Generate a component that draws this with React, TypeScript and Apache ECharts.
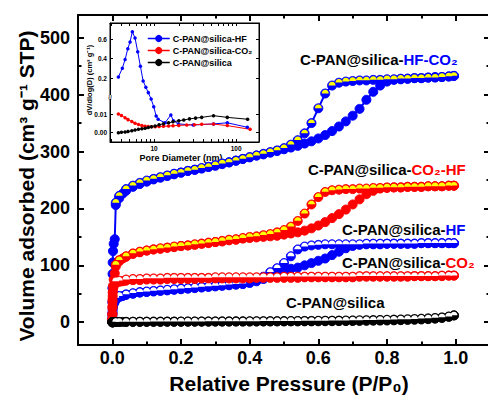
import React, { useEffect, useRef } from 'react';
import * as echarts from 'echarts';

const FONT = '"Liberation Sans", Arial, Helvetica, sans-serif';
const BLUE = '#0000ff';
const RED = '#ff0000';
const BLACK = '#000000';
const YELLOW = '#ffff00';
const WHITE = '#ffffff';

// ---------- main isotherms ----------
const ADS_P = [
  0.00001, 0.00003, 0.0001, 0.0003, 0.0006, 0.001, 0.002, 0.004, 0.007, 0.01,
  0.02, 0.03, 0.04,
  0.06, 0.08, 0.10, 0.12, 0.14, 0.16, 0.18, 0.20,
  0.22, 0.24, 0.26, 0.28, 0.30, 0.32, 0.34, 0.36, 0.38, 0.40,
  0.42, 0.44, 0.46, 0.48, 0.50, 0.52, 0.54, 0.56, 0.58, 0.60,
  0.62, 0.64, 0.66, 0.68, 0.70, 0.72, 0.74, 0.76, 0.78, 0.80,
  0.82, 0.84, 0.86, 0.88, 0.90, 0.92, 0.94, 0.96, 0.98,
  0.995,
];
const DES_P = [
  0.995,
  0.98, 0.96, 0.94, 0.92, 0.90, 0.88, 0.86, 0.84, 0.82, 0.80,
  0.78, 0.76, 0.74, 0.72, 0.70, 0.68, 0.66, 0.64, 0.62, 0.60,
  0.58, 0.56, 0.54, 0.52, 0.50, 0.48, 0.46, 0.44, 0.42, 0.40,
  0.38, 0.36, 0.34, 0.32, 0.30, 0.28, 0.26, 0.24, 0.22, 0.20,
  0.18, 0.16, 0.14, 0.12, 0.10, 0.08, 0.06, 0.04, 0.02,
  0.01,
];

const HFCO2_ADS = [
  2, 15, 35, 60, 85, 105, 125, 138, 146, 206,
  218, 226, 231,
  238, 243, 247, 251, 254, 257, 260, 263,
  266, 268, 270, 273, 275, 278, 281, 284, 287, 290,
  293, 295, 298, 301, 304, 307, 310, 314, 318, 323,
  329, 336, 344, 353, 363, 375, 391, 405, 416, 423,
  426, 427, 428, 429, 429, 430, 431, 431, 432,
  433,
];
const HFCO2_DES = [
  433,
  432, 431, 430, 430, 429, 429, 428, 428, 427, 427,
  426, 426, 425, 425, 424, 423, 421, 416, 402, 376,
  350, 332, 320, 312, 306, 302, 299, 296, 293, 290,
  287, 284, 281, 279, 276, 273, 271, 268, 266, 263,
  261, 258, 255, 252, 249, 245, 240, 234, 222,
  210,
];
const CO2HF_ADS = [
  1, 6, 15, 28, 40, 52, 64, 75, 86, 98,
  107, 112, 115,
  120, 123, 126, 128, 129, 131, 132, 134,
  135, 136, 138, 139, 141, 142, 144, 145, 147, 148,
  149, 150, 151, 152, 154, 156, 158, 161, 165, 170,
  176, 183, 190, 198, 207, 216, 225, 231, 235, 236,
  237, 237, 238, 238, 238, 239, 239, 239, 240,
  240,
];
const CO2HF_DES = [
  240,
  240, 239, 239, 239, 238, 238, 238, 237, 237, 237,
  236, 236, 235, 235, 234, 234, 233, 232, 229, 220,
  207, 191, 178, 168, 162, 158, 155, 153, 151, 150,
  148, 146, 145, 143, 141, 140, 138, 137, 135, 134,
  133, 131, 130, 128, 126, 124, 121, 116, 109,
  101,
];
const HF_ADS = [
  1, 3, 7, 12, 17, 22, 27, 32, 36, 40,
  44, 46, 48,
  50, 52, 53, 54, 55, 56, 57, 58,
  59, 60, 61, 62, 63, 64, 65, 66, 67, 69,
  72, 76, 80, 86, 91, 94, 96, 100, 104, 108,
  112, 118, 124, 130, 134, 136, 137, 137, 137, 138,
  138, 138, 138, 138, 139, 139, 139, 139, 139,
  139,
];
const HF_DES = [
  139,
  139, 139, 139, 139, 139, 138, 138, 138, 138, 138,
  138, 138, 138, 137, 137, 137, 137, 137, 137, 136,
  135, 133, 128, 116, 104, 95, 88, 80, 75, 71,
  68, 67, 66, 65, 64, 63, 62, 61, 60, 59,
  58, 57, 56, 55, 54, 53, 51, 49, 46,
  43,
];
const CO2_ADS = [
  1, 5, 13, 25, 36, 46, 56, 63, 67, 69,
  71, 72, 73,
  74, 74, 75, 75, 75, 76, 76, 76,
  76, 76, 77, 77, 77, 77, 77, 77, 77, 77,
  78, 78, 78, 78, 78, 78, 78, 79, 79, 79,
  79, 79, 79, 79, 79, 80, 80, 80, 80, 80,
  80, 80, 80, 81, 81, 81, 81, 81, 82,
  82,
];
const CO2_DES = [
  82,
  82, 82, 81, 81, 81, 81, 81, 81, 81, 81,
  81, 81, 81, 81, 80, 80, 80, 80, 80, 80,
  80, 80, 80, 80, 80, 79, 79, 79, 79, 79,
  79, 79, 79, 79, 79, 78, 78, 78, 78, 78,
  78, 78, 77, 77, 77, 76, 76, 75, 73,
  72,
];
const SILICA_ADS = [
  0, 0, 0, 0, 0, 0, 0.1, 0.2, 0.3, 0.4,
  0.5, 0.6, 0.6,
  0.7, 0.7, 0.8, 0.8, 0.8, 0.9, 0.9, 0.9,
  1.0, 1.0, 1.0, 1.0, 1.1, 1.1, 1.1, 1.2, 1.2, 1.2,
  1.3, 1.3, 1.3, 1.4, 1.4, 1.5, 1.5, 1.6, 1.6, 1.7,
  1.8, 1.9, 2.0, 2.1, 2.2, 2.3, 2.5, 2.7, 2.9, 3.1,
  3.4, 3.7, 4.0, 4.4, 4.9, 5.5, 6.3, 7.5, 9.5,
  12,
];
const SILICA_DES = [
  12,
  10, 8.5, 7.5, 6.8, 6.2, 5.7, 5.3, 4.9, 4.6, 4.3,
  4.0, 3.8, 3.6, 3.4, 3.2, 3.0, 2.9, 2.7, 2.6, 2.5,
  2.4, 2.3, 2.2, 2.1, 2.0, 1.9, 1.9, 1.8, 1.7, 1.7,
  1.6, 1.6, 1.5, 1.5, 1.4, 1.4, 1.3, 1.3, 1.2, 1.2,
  1.1, 1.1, 1.0, 1.0, 0.9, 0.9, 0.8, 0.7, 0.6,
  0.5,
];

const X_MAJOR = [0, 0.2, 0.4, 0.6, 0.8, 1.0];
const X_MINOR = [0.1, 0.3, 0.5, 0.7, 0.9];
const Y_MAJOR = [0, 100, 200, 300, 400, 500];
const Y_MINOR = [50, 150, 250, 350, 450];

// ---------- inset: pore size distribution ----------
const HF_PSD_D = [3.67, 4.1, 4.43, 4.78, 5.09, 5.43, 5.86, 6.31, 6.81, 7.35, 7.93, 8.5, 9.2, 9.9, 10.6, 11.2, 13.6, 16, 17.2, 19.8, 30, 53, 78, 137];
const HF_PSD_V = [0.21, 0.30, 0.39, 0.50, 0.57, 0.675, 0.61, 0.47, 0.32, 0.17, 0.105, 0.05, 0.018, 0.0139, 0.0089, 0.0072, 0.0053, 0.0095, 0.0064, 0.0047, 0.0041, 0.0047, 0.0053, 0.0029];
const CO2_PSD_D = [3.67, 4.0, 4.43, 4.8, 5.35, 5.86, 6.45, 7.1, 7.76, 8.5, 9.3, 10.3, 11.5, 13, 15, 17, 20, 25, 31, 38, 53, 78, 148];
const CO2_PSD_V = [0.010, 0.0092, 0.008, 0.007, 0.006, 0.005, 0.0044, 0.0038, 0.0035, 0.0033, 0.0032, 0.0032, 0.0033, 0.0034, 0.0036, 0.0037, 0.0039, 0.0041, 0.0043, 0.0045, 0.0046, 0.0038, 0.0018];
const SILICA_PSD_D = [3.67, 4.0, 4.43, 4.8, 5.35, 5.86, 6.45, 7.1, 7.76, 8.5, 9.3, 10.3, 11.5, 13, 15, 17, 20, 23, 27, 32, 38, 53, 78, 138];
const SILICA_PSD_V = [0.0000, 0.0002, 0.0004, 0.0007, 0.0010, 0.0014, 0.0018, 0.0021, 0.0024, 0.0028, 0.0032, 0.0036, 0.0042, 0.0048, 0.0053, 0.0058, 0.0064, 0.0068, 0.0074, 0.0078, 0.0082, 0.0091, 0.0082, 0.0072];

const INSET_X_TICKS = [3, 4, 5, 6, 7, 8, 9, 10, 20, 30, 40, 50, 60, 70, 80, 90, 100];
const INSET_X_LABELS = [10, 100];
const INSET_Y_LOW_TICKS = [0, 0.01];
const INSET_Y_HIGH_TICKS = [0.2, 0.4, 0.6];

// broken inset y axis: two linear segments with different scales
const LOW_OFFSET = 9.3;
const LOW_SCALE = 1870;
const HIGH_OFFSET = 44.5;
const HIGH_SCALE = 97.5;
const BREAK_V = 0.019;
const brk = (v: number) => (v < BREAK_V ? LOW_OFFSET + v * LOW_SCALE : HIGH_OFFSET + v * HIGH_SCALE);

// top half of a circle (yellow / white upper half of the desorption symbols)
const HALF = 'path://M0,10C0,4.477 4.477,0 10,0C15.523,0 20,4.477 20,10Z';

function branch(name: string, P: number[], V: number[], color: string, z: number) {
  return {
    type: 'line',
    name,
    xAxisIndex: 0,
    yAxisIndex: 0,
    z,
    data: P.map((p, i) => [p, V[i]]),
    symbol: 'circle',
    symbolSize: 9,
    showSymbol: true,
    itemStyle: { color, borderColor: color, borderWidth: 1 },
    lineStyle: { color, width: 2 },
    silent: true,
    animation: false,
  };
}
function halves(name: string, P: number[], V: number[], fill: string, z: number) {
  return {
    type: 'scatter',
    name,
    xAxisIndex: 0,
    yAxisIndex: 0,
    z,
    data: P.map((p, i) => [p, V[i]]),
    symbol: HALF,
    symbolSize: [7, 3.6],
    symbolOffset: [0, -1.9],
    itemStyle: { color: fill, borderWidth: 0, opacity: 1 },
    silent: true,
    animation: false,
  };
}
function psd(name: string, D: number[], V: number[], color: string) {
  return {
    type: 'line',
    name,
    xAxisIndex: 4,
    yAxisIndex: 4,
    z: 40,
    data: D.map((d, i) => [d, brk(V[i])]),
    symbol: 'circle',
    symbolSize: 3.5,
    itemStyle: { color },
    lineStyle: { color, width: 1 },
    silent: true,
    animation: false,
  };
}

const insetYTicks = [
  ...INSET_Y_LOW_TICKS.map((v) => ({ pos: brk(v), text: v.toFixed(2) })),
  ...INSET_Y_HIGH_TICKS.map((v) => ({ pos: brk(v), text: v.toFixed(1) })),
];
const insetYPos = insetYTicks.map((t) => t.pos);
const insetYFmt = (val: number) => {
  let best = insetYTicks[0];
  for (const t of insetYTicks) if (Math.abs(t.pos - val) < Math.abs(best.pos - val)) best = t;
  return best.text;
};

function label(x: number, y: number, plain: string, colored: string, color: string) {
  const tok = (fill: string) => ({ fill, fontSize: 15, fontWeight: 'bold', fontFamily: FONT });
  return {
    type: 'text',
    x,
    y,
    z: 100,
    silent: true,
    style: {
      text: colored ? `{k|${plain}}{c|${colored}}` : `{k|${plain}}`,
      rich: { k: tok(BLACK), c: tok(color) },
      align: 'left',
      verticalAlign: 'middle',
    },
  };
}

const mainLine = { show: true, onZero: false, lineStyle: { color: '#000', width: 2 } };
const noLine = { show: false, onZero: false };
const majorTick = (vals: number[]) => ({ show: true, inside: true, length: 6, customValues: vals, lineStyle: { color: '#000', width: 2 } });
const minorTick = (vals: number[]) => ({ show: true, inside: true, length: 3.5, customValues: vals, lineStyle: { color: '#000', width: 2 } });
const tickLabel = { fontSize: 18, fontWeight: 'bold', fontFamily: FONT, color: '#000', inside: false };
const insetLine = { show: true, onZero: false, lineStyle: { color: '#000', width: 1 } };
const insetTick = (vals: number[]) => ({ show: true, inside: true, length: 3, customValues: vals, lineStyle: { color: '#000', width: 1 } });
const insetLabel = { fontSize: 6.5, fontWeight: 'bold', fontFamily: FONT, color: '#000', inside: false };

export default function App() {
  const ref = useRef<HTMLDivElement>(null);
  useEffect(() => {
    if (!ref.current) return;
    const chart = echarts.init(ref.current, null, { renderer: 'svg' });
    const mainX = { gridIndex: 0, type: 'value', min: -0.1, max: 1.1, splitLine: { show: false } };
    const mainY = { gridIndex: 0, type: 'value', min: -40, max: 540, splitLine: { show: false } };
    const insetX = { gridIndex: 1, type: 'log', logBase: 10, min: 2.9, max: 190, splitLine: { show: false }, minorTick: { show: false } };
    const insetY = { gridIndex: 1, type: 'value', min: 0, max: 119, splitLine: { show: false } };
    const option: any = {
      animation: false,
      backgroundColor: '#fff',
      grid: [
        { left: 78, top: 15, width: 412, height: 330, show: false, outerBoundsMode: 'none', containLabel: false },
        { left: 110, top: 23, width: 149, height: 119, show: true, backgroundColor: '#fff', borderColor: '#000', borderWidth: 1, outerBoundsMode: 'none', containLabel: false },
      ],
      xAxis: [
        { ...mainX, position: 'bottom', axisLine: mainLine, axisTick: majorTick(X_MAJOR), axisLabel: { ...tickLabel, customValues: X_MAJOR, margin: 4, formatter: (v: number) => v.toFixed(1) } },
        { ...mainX, position: 'bottom', axisLine: noLine, axisTick: minorTick(X_MINOR), axisLabel: { show: false } },
        { ...mainX, position: 'top', axisLine: mainLine, axisTick: majorTick(X_MAJOR), axisLabel: { show: false } },
        { ...mainX, position: 'top', axisLine: noLine, axisTick: minorTick(X_MINOR), axisLabel: { show: false } },
        { ...insetX, position: 'bottom', axisLine: insetLine, axisTick: insetTick(INSET_X_TICKS), axisLabel: { ...insetLabel, customValues: INSET_X_LABELS, margin: 3 } },
        { ...insetX, position: 'top', axisLine: insetLine, axisTick: insetTick(INSET_X_TICKS), axisLabel: { show: false } },
      ],
      yAxis: [
        { ...mainY, position: 'left', axisLine: mainLine, axisTick: majorTick(Y_MAJOR), axisLabel: { ...tickLabel, customValues: Y_MAJOR, margin: 8 } },
        { ...mainY, position: 'left', axisLine: noLine, axisTick: minorTick(Y_MINOR), axisLabel: { show: false } },
        { ...mainY, position: 'right', axisLine: noLine, axisTick: majorTick(Y_MAJOR), axisLabel: { show: false } },
        { ...mainY, position: 'right', axisLine: noLine, axisTick: minorTick(Y_MINOR), axisLabel: { show: false } },
        { ...insetY, position: 'left', axisLine: insetLine, axisTick: insetTick(insetYPos), axisLabel: { ...insetLabel, customValues: insetYPos, margin: 3, formatter: insetYFmt } },
        { ...insetY, position: 'right', axisLine: insetLine, axisTick: insetTick(insetYPos), axisLabel: { show: false } },
      ],
      legend: {
        show: true,
        left: 142,
        top: 29,
        orient: 'vertical',
        itemWidth: 22,
        itemHeight: 9,
        itemGap: 3,
        selectedMode: false,
        lineStyle: { width: 1.5 },
        textStyle: { fontSize: 9, fontWeight: 'bold', fontFamily: FONT, color: '#000', padding: [0, 0, 0, -2] },
        data: ['C-PAN@silica-HF', 'C-PAN@silica-CO₂', 'C-PAN@silica'],
      },
      series: [
        branch('hfco2-ads', ADS_P, HFCO2_ADS, BLUE, 2),
        branch('hfco2-des', DES_P, HFCO2_DES, BLUE, 3),
        halves('hfco2-half', DES_P, HFCO2_DES, YELLOW, 4),
        branch('hf-ads', ADS_P, HF_ADS, BLUE, 5),
        branch('hf-des', DES_P, HF_DES, BLUE, 6),
        halves('hf-half', DES_P, HF_DES, WHITE, 7),
        branch('co2hf-ads', ADS_P, CO2HF_ADS, RED, 8),
        branch('co2hf-des', DES_P, CO2HF_DES, RED, 9),
        halves('co2hf-half', DES_P, CO2HF_DES, YELLOW, 10),
        branch('co2-ads', ADS_P, CO2_ADS, RED, 11),
        branch('co2-des', DES_P, CO2_DES, RED, 12),
        halves('co2-half', DES_P, CO2_DES, WHITE, 13),
        branch('silica-ads', ADS_P, SILICA_ADS, BLACK, 14),
        branch('silica-des', DES_P, SILICA_DES, BLACK, 15),
        halves('silica-half', DES_P, SILICA_DES, WHITE, 16),
        psd('C-PAN@silica-HF', HF_PSD_D, HF_PSD_V, BLUE),
        psd('C-PAN@silica-CO₂', CO2_PSD_D, CO2_PSD_V, RED),
        psd('C-PAN@silica', SILICA_PSD_D, SILICA_PSD_V, BLACK),
      ],
      graphic: [
        label(300, 59, 'C-PAN@silica-', 'HF-CO₂', BLUE),
        label(308, 169, 'C-PAN@silica-', 'CO₂-HF', RED),
        label(342, 229, 'C-PAN@silica-', 'HF', BLUE),
        label(342, 262, 'C-PAN@silica-', 'CO₂', RED),
        label(286, 302, 'C-PAN@silica', '', BLACK),
        {
          type: 'text', x: 26, y: 186, rotation: Math.PI / 2, silent: true,
          style: { text: 'Volume adsorbed (cm³ g⁻¹ STP)', fill: '#000', fontSize: 21, fontWeight: 'bold', fontFamily: FONT, align: 'center', verticalAlign: 'middle' },
        },
        {
          type: 'text', x: 289, y: 383, silent: true,
          style: { text: 'Relative Pressure (P/P₀)', fill: '#000', fontSize: 21, fontWeight: 'bold', fontFamily: FONT, align: 'center', verticalAlign: 'middle' },
        },
        {
          type: 'text', x: 89, y: 80, rotation: Math.PI / 2, silent: true, z: 60,
          style: { text: 'dV/dlog(D) (cm³ g⁻¹)', fill: '#000', fontSize: 7.5, fontWeight: 'bold', fontFamily: FONT, align: 'center', verticalAlign: 'middle' },
        },
        {
          type: 'text', x: 181, y: 158, silent: true,
          style: { text: 'Pore Diameter (nm)', fill: '#000', fontSize: 9, fontWeight: 'bold', fontFamily: FONT, align: 'center', verticalAlign: 'middle' },
        },
        { type: 'rect', shape: { x: 108, y: 95, width: 4, height: 4 }, style: { fill: '#fff' }, z: 50, silent: true },
        {
          type: 'text', x: 110, y: 97, rotation: Math.PI / 2, z: 51, silent: true,
          style: { text: '≈', fill: '#000', fontSize: 9, fontFamily: FONT, align: 'center', verticalAlign: 'middle' },
        },
      ],
    };
    chart.setOption(option);
    return () => chart.dispose();
  }, []);
  return <div ref={ref} style={{ position: 'fixed', left: 0, top: 0, width: 488, height: 400 }} />;
}
